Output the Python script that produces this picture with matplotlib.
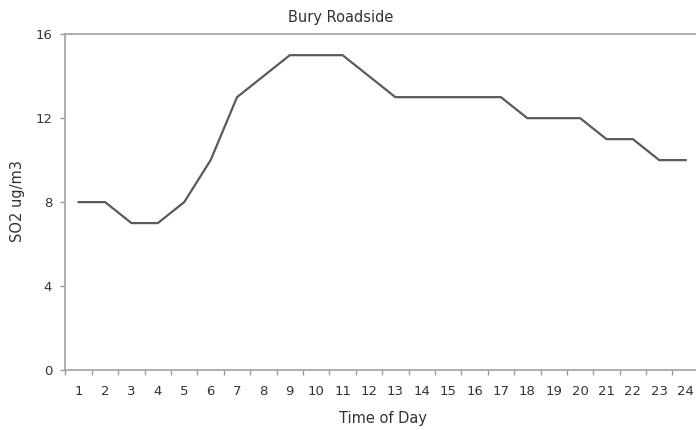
from matplotlib import pyplot as plt
import numpy as np

# hourly SO2 at Bury Roadside
hours = list(range(1, 25))
so2 = [8, 8, 7, 7, 8, 10, 13, 14, 15, 15, 15, 14,
       13, 13, 13, 13, 13, 12, 12, 12, 11, 11, 10, 10]
y_ticks = [0, 4, 8, 12, 16]

fig = plt.figure(figsize=(6.96, 4.30), dpi=100)
ax = fig.add_axes([0.0941, 0.1395, 0.910, 0.781])

ax.plot(hours, so2, color='#5a5a5a', linewidth=1.6)

ax.set_xlim(0.5, 24.5)
ax.set_ylim(0, 16)
ax.set_yticks(y_ticks)

# labels sit at the hour, tick marks between hours
ax.set_xticks(hours)
ax.set_xticks(np.arange(0.5, 25, 1), minor=True)
ax.tick_params(axis='x', which='major', length=0, pad=11)
ax.tick_params(axis='x', which='minor', length=3.6, width=1, color='#999999')
ax.tick_params(axis='y', length=3.6, width=1, color='#999999', pad=6)
ax.tick_params(labelsize=9.5, labelcolor='#333333')

for side in ['left', 'bottom', 'top', 'right']:
    ax.spines[side].set_color('#a8a8a8')
    ax.spines[side].set_linewidth(1.3)

# title is centred on the whole chart, not the plot area
fig.text(0.49, 0.96, "Bury Roadside", fontsize=10.5, color='#333333',
         ha='center', va='center')
fig.text(383 / 696, 1 - 418 / 430, "Time of Day", fontsize=10.5,
         color='#333333', ha='center', va='center')
fig.text(18 / 696, 1 - 201 / 430, "SO2 ug/m3", fontsize=10.5,
         color='#333333', ha='center', va='center', rotation=90)

plt.savefig("out.png", dpi=100)
